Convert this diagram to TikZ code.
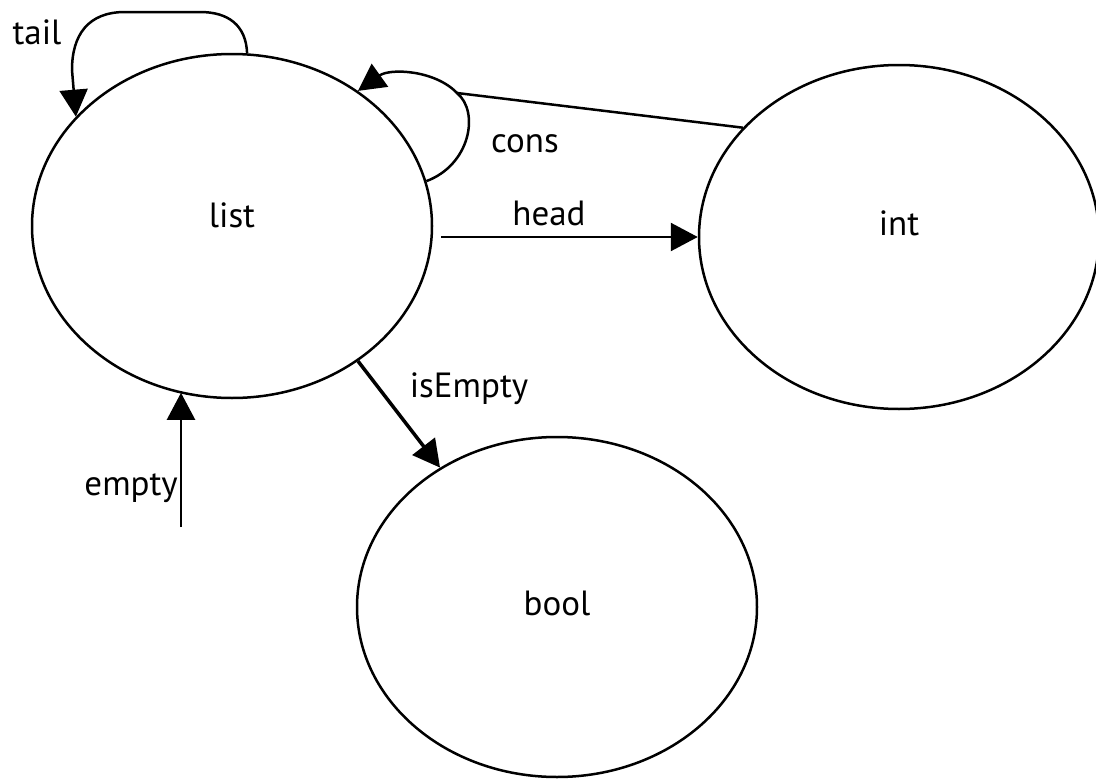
\documentclass[tikz,border=0pt]{standalone}
\usepackage{fontspec}
\setmainfont{PT Sans}
\usetikzlibrary{shapes.geometric,arrows.meta}
\begin{document}
\begin{tikzpicture}[x=1pt,y=-1pt,
  typenode/.style={ellipse,draw,line width=2.5pt,minimum width=400pt,minimum height=344pt,inner sep=0pt,font=\fontsize{35}{42}\selectfont,text height=20pt},
  link/.style={line width=2.5pt},
  conn/.style={link,-{Triangle[length=27pt,width=28pt]}},
  lbl/.style={font=\fontsize{35}{42}\selectfont,inner sep=0pt,anchor=base}]
\useasboundingbox (0,0) rectangle (1096,779);
\fill[white] (0,0) rectangle (1096,779);
\node[typenode,text depth=18pt] (list) at (232,226) {list};
\node[typenode,text depth=24pt] (int) at (899,237) {int};
\node[typenode,text depth=4pt,minimum height=340pt] (bool) at (557,607) {bool};
% tail
\draw[conn] (list.85) .. controls (246,25) and (228,12) .. (200,12) -- (125,12) .. controls (88,12) and (72,35) .. (72,70) -- (list.145);
% cons
\coordinate (j) at (457,93);
\draw[link] (int.145) -- (j);
\draw[conn] (list.13) .. controls (470,165) and (480,112) .. (j) .. controls (435,70) and (390,68) .. (list.47);
% head
\coordinate (h0) at ([xshift=8pt]list.east);
\draw[conn] (h0 |- int.west) -- (int.west);
% isEmpty
\draw[conn,line width=3.5pt] (list.-47) -- (bool.130);
% empty
\coordinate (e0) at (181,527);
\draw[conn] (e0) -- (e0 |- list.-108);
% labels
\node[lbl] (tailL) at (37,45) {tail};
\node[lbl] (consL) at (525,152) {cons};
\node[lbl] (headL) at (549,225) {head};
\node[lbl] (isEmptyL) at (469,397) {isEmpty};
\node[lbl,anchor=base east] (emptyL) at (178,495) {empty};
\end{tikzpicture}
\end{document}
